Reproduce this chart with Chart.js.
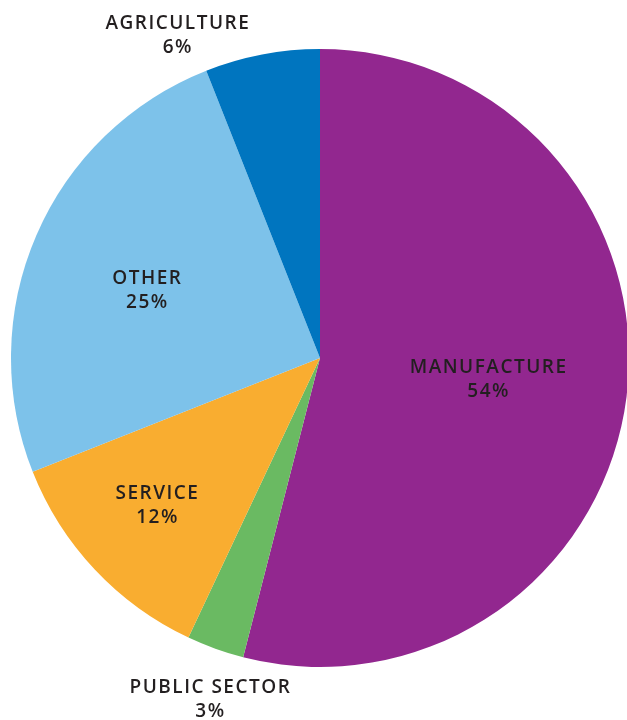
<!DOCTYPE html>
<html>
<head>
<meta charset="utf-8">
<script src="https://cdn.jsdelivr.net/npm/chart.js@4"></script>
<style>
  html, body { margin: 0; padding: 0; background: #fff; overflow: hidden; }
  #wrap { width: 640px; height: 720px; position: relative; }
</style>
</head>
<body>
<div id="wrap"><canvas id="myChart"></canvas></div>
<script>
const sectors = ["MANUFACTURE", "PUBLIC SECTOR", "SERVICE", "OTHER", "AGRICULTURE"];
const shares = [54, 3, 12, 25, 6];
const sliceColors = ["#92278f", "#6aba62", "#f9ad30", "#7dc2ea", "#0075bf"];

// where each label sits: fraction of the radius, and a small turn off the slice middle (degrees)
const labelRadius = [0.55, 1.16, 0.71, 0.6, 1.14];
const labelTurn = [0, -2, 1, -2, -13];

const sliceLabels = {
    id: "sliceLabels",
    afterDatasetsDraw(chart) {
        const ctx = chart.ctx;
        const arcs = chart.getDatasetMeta(0).data;
        ctx.save();
        ctx.fillStyle = "#231f20";
        ctx.textAlign = "center";
        ctx.textBaseline = "middle";
        ctx.font = "600 19px 'Open Sans'";
        ctx.letterSpacing = "1.5px";
        arcs.forEach((arc, i) => {
            const p = arc.getProps(["x", "y", "startAngle", "endAngle", "outerRadius"], true);
            const mid = (p.startAngle + p.endAngle) / 2 + labelTurn[i] * Math.PI / 180;
            const r = p.outerRadius * labelRadius[i];
            const x = p.x + Math.cos(mid) * r;
            const y = p.y + Math.sin(mid) * r;
            ctx.fillText(sectors[i], x, y - 12);
            ctx.fillText(shares[i] + "%", x, y + 12);
        });
        ctx.restore();
    }
};

new Chart("myChart", {
    type: "pie",
    data: {
        labels: sectors,
        datasets: [{
            data: shares,
            backgroundColor: sliceColors,
            borderWidth: 0
        }]
    },
    options: {
        responsive: true,
        maintainAspectRatio: false,
        animation: false,
        layout: { padding: { top: 49, bottom: 53, left: 11, right: 11 } },
        plugins: {
            legend: { display: false },
            tooltip: { enabled: false }
        }
    },
    plugins: [sliceLabels]
});
</script>
</body>
</html>
